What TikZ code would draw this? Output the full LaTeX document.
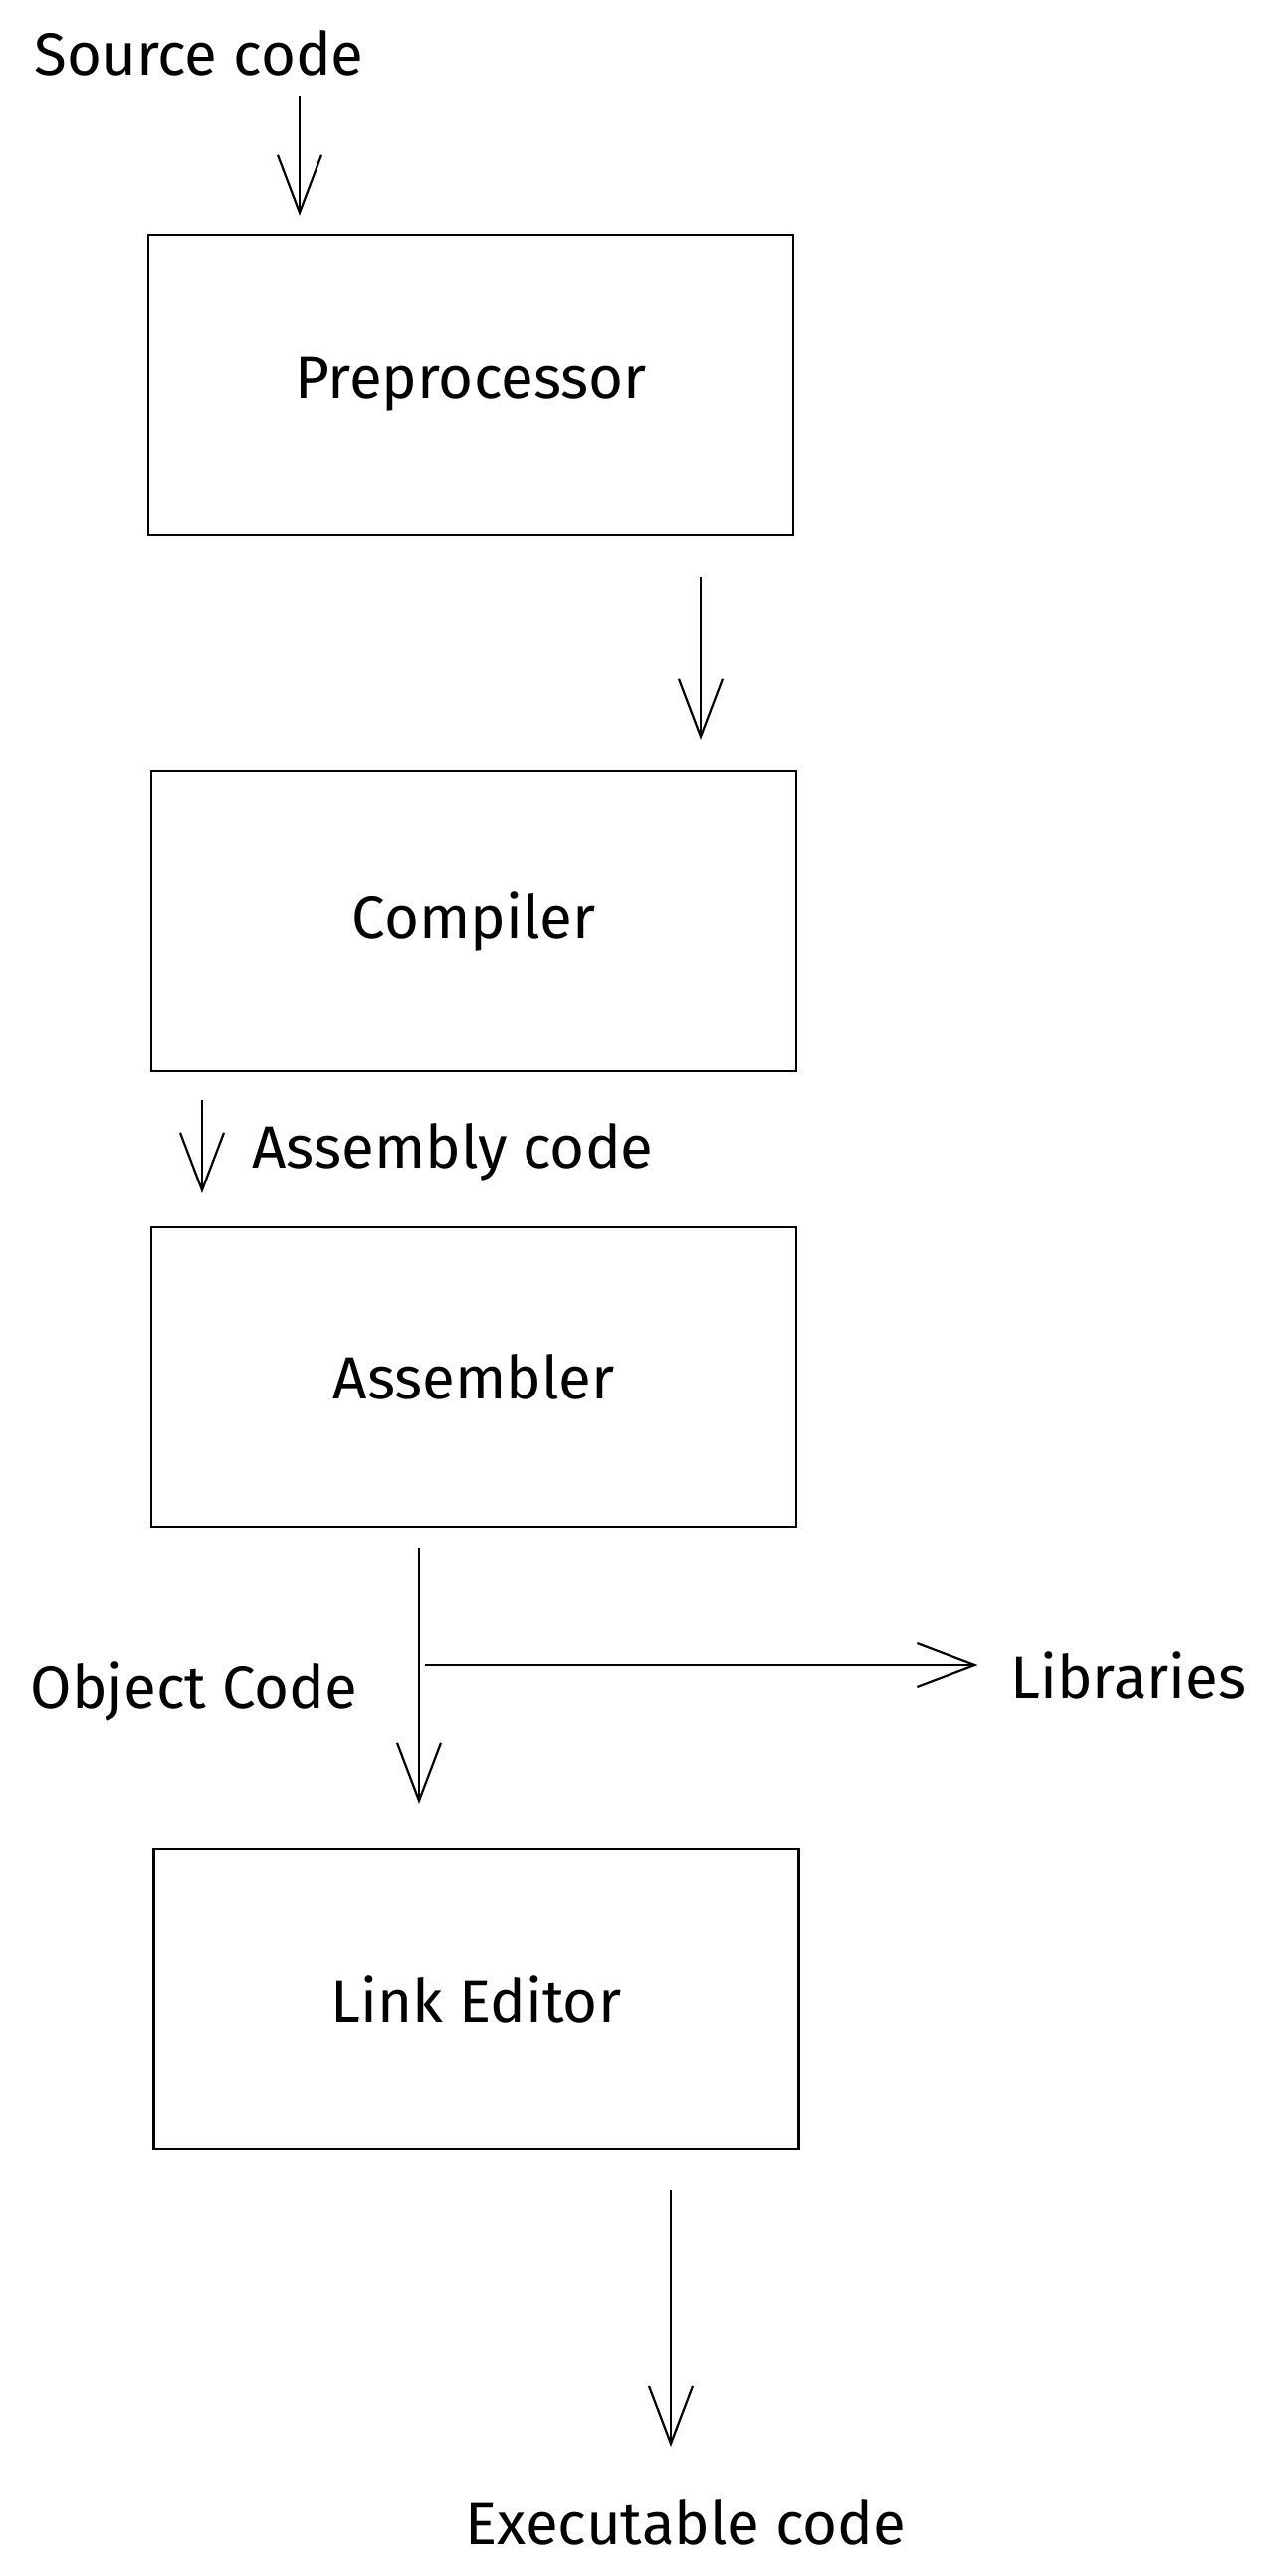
\documentclass[tikz,border=0pt]{standalone}
\usepackage{fontspec}
\setmainfont{Fira Sans}
\usetikzlibrary{arrows.meta}
\begin{document}
\begin{tikzpicture}[x=0.5pt,y=-0.5pt,
    tag/.style={font=\fontsize{30}{34}\selectfont},
    stage/.style={draw,line width=1.1pt,minimum width=324pt,minimum height=150.5pt,inner sep=0pt,tag},
    arr/.style={line width=1.1pt,-{Straight Barb[length=29pt,width=22pt]}}]
    \useasboundingbox (0,0) rectangle (1273,2588);
    \node[tag] (src) at (200,53) {Source code};
    \node[stage] (pre) at (473,386.5) {Preprocessor};
    \node[stage] (com) at (476,925.5) {Compiler};
    \node[tag] (asmcode) at (455,1157) {Assembly code};
    \node[stage] (asm) at (476,1383.5) {Assembler};
    \node[tag] (obj) at (195,1699) {Object Code};
    \node[tag] (lib) at (1134,1683) {Libraries};
    \node[stage] (lnk) at (478.5,2008.5) {Link Editor};
    \node[tag] (exe) at (689,2534) {Executable code};
    \coordinate (a1) at (301,96);
    \coordinate (a2) at (704,0);
    \coordinate (a3) at (203,0);
    \coordinate (a4) at (421,0);
    \coordinate (br) at (427,1673);
    \coordinate (a5) at (674,2458);
    \draw[arr,shorten >=9pt] (a1) -- (a1 |- pre.north);
    \draw[arr,shorten <=21pt,shorten >=15.5pt] (pre.south -| a2) -- (com.north -| a2);
    \draw[arr,shorten <=14pt,shorten >=16.5pt] (com.south -| a3) -- (asm.north -| a3);
    \draw[arr,shorten <=10pt,shorten >=22.5pt] (asm.south -| a4) -- (lnk.north -| a4);
    \draw[arr,shorten >=13pt] (br) -- (br -| lib.west);
    \draw[arr,shorten <=20pt] (lnk.south -| a5) -- (a5);
\end{tikzpicture}
\end{document}
